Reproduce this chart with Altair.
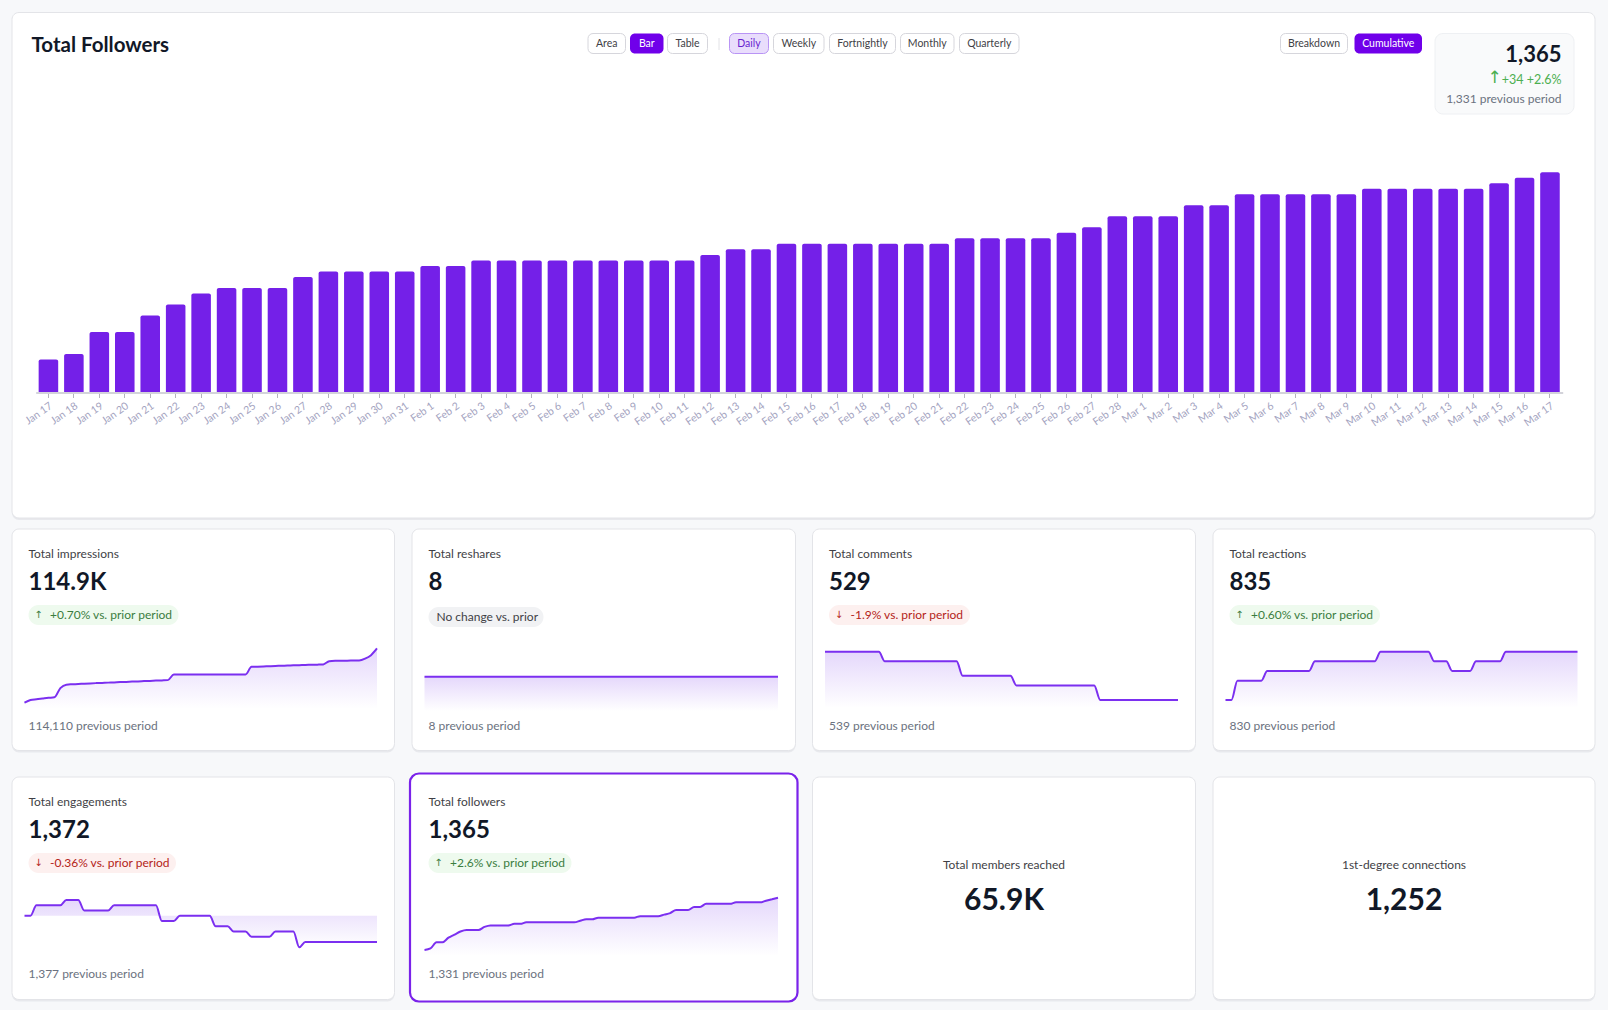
import altair as alt
import pandas as pd

W, H = 1608, 1010
FONT = "Lato"

# ---------------- data ----------------
dates = [
    "Jan 17", "Jan 18", "Jan 19", "Jan 20", "Jan 21", "Jan 22", "Jan 23", "Jan 24", "Jan 25", "Jan 26",
    "Jan 27", "Jan 28", "Jan 29", "Jan 30", "Jan 31",
    "Feb 1", "Feb 2", "Feb 3", "Feb 4", "Feb 5", "Feb 6", "Feb 7", "Feb 8", "Feb 9", "Feb 10",
    "Feb 11", "Feb 12", "Feb 13", "Feb 14", "Feb 15", "Feb 16", "Feb 17", "Feb 18", "Feb 19", "Feb 20",
    "Feb 21", "Feb 22", "Feb 23", "Feb 24", "Feb 25", "Feb 26", "Feb 27", "Feb 28",
    "Mar 1", "Mar 2", "Mar 3", "Mar 4", "Mar 5", "Mar 6", "Mar 7", "Mar 8", "Mar 9", "Mar 10",
    "Mar 11", "Mar 12", "Mar 13", "Mar 14", "Mar 15", "Mar 16", "Mar 17",
]
followers = [
    1331, 1332, 1336, 1336, 1339, 1341, 1343, 1344, 1344, 1344, 1346, 1347, 1347, 1347, 1347,
    1348, 1348, 1349, 1349, 1349, 1349, 1349, 1349, 1349, 1349, 1349, 1350, 1351, 1351,
    1352, 1352, 1352, 1352, 1352, 1352, 1352, 1353, 1353, 1353, 1353, 1354, 1355, 1357,
    1357, 1357, 1359, 1359, 1361, 1361, 1361, 1361, 1361, 1362, 1362, 1362, 1362, 1362,
    1363, 1364, 1365,
]
impressions = [
    114114, 114153, 114165, 114175, 114185, 114192, 114325, 114375, 114380, 114384,
    114389, 114393, 114397, 114400, 114404, 114407, 114412, 114414, 114419, 114422,
    114426, 114429, 114433, 114436, 114440, 114522, 114522, 114522, 114522, 114522,
    114522, 114522, 114522, 114522, 114522, 114522, 114522, 114522, 114631, 114634,
    114637, 114641, 114644, 114647, 114650, 114653, 114656, 114659, 114661, 114663,
    114666, 114713, 114719, 114720, 114720, 114722, 114723, 114749, 114799, 114896,
]
reshares = [8] * 60
comments = [539] * 10 + [537] * 13 + [534] * 9 + [532] * 14 + [529] * 14
reactions = ([830] * 2 + [832] * 5 + [833] * 8 + [834] * 11 + [835] * 9 + [834] * 3
             + [833] * 4 + [834] * 5 + [835] * 13)
engagements = ([1377] * 2 + [1379] * 5 + [1380] * 3 + [1378] * 5 + [1379] * 8 + [1376] * 3
               + [1377] * 6 + [1375] * 3 + [1374] * 3 + [1373] * 4 + [1374] * 4 + [1371] * 1
               + [1372] * 13)

card_titles = ["Total impressions", "Total reshares", "Total comments", "Total reactions",
               "Total engagements", "Total followers"]
card_values = ["114.9K", "8", "529", "835", "1,372", "1,365"]
card_badges = ["+0.70% vs. prior period", "No change vs. prior", "-1.9% vs. prior period",
               "+0.60% vs. prior period", "-0.36% vs. prior period", "+2.6% vs. prior period"]
card_trend = ["up", "flat", "down", "up", "down", "up"]
card_prev = ["114,110 previous period", "8 previous period", "539 previous period",
             "830 previous period", "1,377 previous period", "1,331 previous period"]
card_series = [impressions, reshares, comments, reactions, engagements, followers]

simple_titles = ["Total members reached", "1st-degree connections"]
simple_values = ["65.9K", "1,252"]

view_buttons = ["Area", "Bar", "Table"]
period_buttons = ["Daily", "Weekly", "Fortnightly", "Monthly", "Quarterly"]
mode_buttons = ["Breakdown", "Cumulative"]

kpi_value = "1,365"
kpi_change = "+34 +2.6%"
kpi_prev = "1,331 previous period"

# ---------------- styling ----------------
PURPLE = "#7420e8"
LINE = "#7b2ff0"
DARK = "#111827"
GRAY = "#6b7280"
TXT = "#3f3f46"
BORDER = "#e3e4e8"

grad = alt.Gradient(
    gradient="linear",
    stops=[alt.GradientStop(color="rgba(124,58,237,0.20)", offset=0),
           alt.GradientStop(color="rgba(124,58,237,0.0)", offset=1)],
    x1=1, x2=1, y1=0, y2=1,
)

layers = []


def box(x0, y0, x1, y1, fill, stroke=None, sw=1.0, r=6):
    kw = dict(fill=fill, cornerRadius=r)
    if stroke:
        kw.update(stroke=stroke, strokeWidth=sw)
    return alt.Chart(alt.Data(values=[{"k": 0}])).mark_rect(**kw).encode(
        x=alt.value(x0), x2=alt.value(x1), y=alt.value(y0), y2=alt.value(y1))


def label(s, x, y, size=12.0, color=TXT, weight="normal", align="left", font=FONT):
    return alt.Chart(alt.Data(values=[{"t": s}])).mark_text(
        align=align, baseline="middle", fontSize=size, fontWeight=weight,
        color=color, font=font).encode(x=alt.value(x), y=alt.value(y), text="t:N")


def card(x0, y0, x1, y1, stroke=BORDER, sw=1.0):
    layers.append(box(x0, y0 + 2, x1, y1 + 2, "#e8e9ed", r=7))
    layers.append(box(x0, y0, x1, y1, "#ffffff", stroke=stroke, sw=sw, r=7))


# ---------------- main card ----------------
card(12, 12.5, 1595, 518)
layers.append(label("Total Followers", 31.5, 46, size=20.5, color=DARK, weight="bold"))

BTN_Y0, BTN_Y1 = 33.5, 53.5
view_x = [(588, 625.5), (630, 663.5), (667.5, 707.5)]
period_x = [(729.5, 768.5), (773.5, 824), (829.5, 895.5), (900.5, 954), (959.5, 1019)]
mode_x = [(1280.5, 1347.5), (1354.5, 1422)]


def button(text, xs, style):
    x0, x1 = xs
    if style == "solid":
        layers.append(box(x0, BTN_Y0, x1, BTN_Y1, "#7000ea", r=5))
        col = "#ffffff"
    elif style == "soft":
        layers.append(box(x0, BTN_Y0, x1, BTN_Y1, "#e9ddfc", stroke="#b994f5", r=5))
        col = "#6a1fd0"
    else:
        layers.append(box(x0, BTN_Y0, x1, BTN_Y1, "#ffffff", stroke="#d6d6dc", r=5))
        col = "#3f3f46"
    layers.append(label(text, (x0 + x1) / 2, 43.8, size=10.5, color=col, align="center"))


for t, xs in zip(view_buttons, view_x):
    button(t, xs, "solid" if t == "Bar" else "plain")
layers.append(alt.Chart(alt.Data(values=[{"k": 0}])).mark_rule(color="#e2e2e6", strokeWidth=1).encode(
    x=alt.value(719), y=alt.value(38), y2=alt.value(50)))
for t, xs in zip(period_buttons, period_x):
    button(t, xs, "soft" if t == "Daily" else "plain")
for t, xs in zip(mode_buttons, mode_x):
    button(t, xs, "solid" if t == "Cumulative" else "plain")

# KPI box
layers.append(box(1435, 33.5, 1574, 114, "#f9fafb", stroke="#eef0f3", r=8))
layers.append(label(kpi_value, 1561.5, 55, size=22, color=DARK, weight="bold", align="right"))
layers.append(label("↑", 1494.5, 78, size=17, color="#4caf50", align="center", font="DejaVu Sans"))
layers.append(label(kpi_change, 1561.5, 79.5, size=12.5, color="#4caf50", align="right"))
layers.append(label(kpi_prev, 1561.5, 99, size=12, color=GRAY, align="right"))

# Bars
bar_df = pd.DataFrame({"date": dates, "followers": followers})
BASE_Y = 392.5
bars = alt.Chart(bar_df).mark_bar(color=PURPLE, cornerRadiusTopLeft=2, cornerRadiusTopRight=2).encode(
    x=alt.X("date:N", sort=dates,
            scale=alt.Scale(range=[35.7, 1562.7], paddingInner=0.232, paddingOuter=0.116),
            axis=alt.Axis(orient="bottom", offset=-(H - BASE_Y), title=None, grid=False, zindex=2,
                          labelAngle=325, labelAlign="right", labelBaseline="top",
                          labelFontSize=10.5, labelFont=FONT, labelColor="#a4a4bf",
                          labelPadding=3, labelOverlap=False, labelBound=False,
                          tickColor="#b4b4bc", tickSize=5, domainColor="#d3d3da", domainWidth=2)),
    y=alt.Y("followers:Q", axis=None,
            scale=alt.Scale(domain=[1325, 1365], range=[BASE_Y, 172.3], nice=False, zero=False)),
    y2=alt.datum(1325),
)
layers.append(bars)
# page background strip left of the main card (clips the first rotated label like the reference)
layers.append(alt.Chart(alt.Data(values=[{"k": 0}])).mark_rect(fill="#f7f8fa").encode(
    x=alt.value(0), x2=alt.value(11.5), y=alt.value(380), y2=alt.value(440)))

# ---------------- metric cards ----------------
col_x = [(12, 394.5), (412, 795.5), (812.5, 1195.5), (1213, 1595)]
row_y = [(529, 750.5), (777, 999.5)]
badge_w = [150, 115, 141, 150.5, 147.5, 143]
# sparkline y scales: domain (low, high) -> pixel range (bottom, top); area fills down to its base
spark_dom = [(114024, 114900), (0, 8), (527.34, 539), (829.17, 835), (1371, 1380), (1327.1, 1365)]
spark_px = [(709, 648.2), (711, 676.7), (708, 651.7), (708, 651.7), (947.3, 900), (956, 897.7)]
area_base = [114024, 0, 527.34, 829.17, 1377, 1327.1]

slots = [(0, 0), (0, 1), (0, 2), (0, 3), (1, 0), (1, 1)]
for k, (r, c) in enumerate(slots):
    x0, x1 = col_x[c]
    y0, y1 = row_y[r]
    if k == 5:
        layers.append(box(x0 - 2.5, y0 - 3, x1 + 2.5, y1 + 3, "#e8e9ed", r=9))
        layers.append(box(x0 - 2, y0 - 3.5, x1 + 2, y1 + 2, "#ffffff", stroke="#7a22ea", sw=2.2, r=9))
    else:
        card(x0, y0, x1, y1)
    lx = x0 + 16.5
    layers.append(label(card_titles[k], lx, y0 + 24.5, size=12, color=TXT))
    layers.append(label(card_values[k], lx, y0 + 53.5, size=24, color=DARK, weight="bold"))
    trend = card_trend[k]
    if trend == "up":
        bg, fg, arrow = "#eefaee", "#3b7d3f", "↑"
    elif trend == "down":
        bg, fg, arrow = "#fdf0ef", "#b42318", "↓"
    else:
        bg, fg, arrow = "#f1f2f4", "#3f3f46", None
    by = y0 + 76 if trend != "flat" else y0 + 78
    layers.append(box(lx, by, lx + badge_w[k], by + 20, bg, r=10))
    if arrow:
        layers.append(label(arrow, lx + 10, by + 10.3, size=10, color=fg, align="center",
                            font="DejaVu Sans"))
        layers.append(label(card_badges[k], lx + 21.5, by + 10.3, size=12, color=fg))
    else:
        layers.append(label(card_badges[k], lx + 8, by + 10.3, size=12, color=fg))
    layers.append(label(card_prev[k], lx, y0 + 197, size=12, color=GRAY))

    # sparkline
    vals = card_series[k]
    df = pd.DataFrame({"i": list(range(len(vals))), "v": vals})
    sx = alt.X("i:Q", axis=None,
               scale=alt.Scale(domain=[0, len(vals) - 1], range=[x0 + 12.5, x1 - 17.5], nice=False, zero=False))
    sy = alt.Y("v:Q", axis=None,
               scale=alt.Scale(domain=list(spark_dom[k]), range=list(spark_px[k]), nice=False, zero=False))
    layers.append(alt.Chart(df).mark_area(interpolate="monotone", fill=grad).encode(
        x=sx, y=sy, y2=alt.datum(area_base[k])))
    layers.append(alt.Chart(df).mark_line(interpolate="monotone", color=LINE, strokeWidth=2).encode(x=sx, y=sy))

# simple cards
for j in range(2):
    x0, x1 = col_x[2 + j]
    y0, y1 = row_y[1]
    card(x0, y0, x1, y1)
    cx = (x0 + x1) / 2
    layers.append(label(simple_titles[j], cx, 865, size=12, color=TXT, align="center"))
    layers.append(label(simple_values[j], cx, 901, size=30, color=DARK, weight="bold", align="center"))

chart = alt.layer(*layers).resolve_scale(x="independent", y="independent").properties(
    width=W, height=H, padding=0, autosize=alt.AutoSizeParams(type="none"),
).configure(background="#f7f8fa", font=FONT).configure_view(stroke=None)

chart.save("out.html", embed_options={"renderer": "svg", "actions": False})
